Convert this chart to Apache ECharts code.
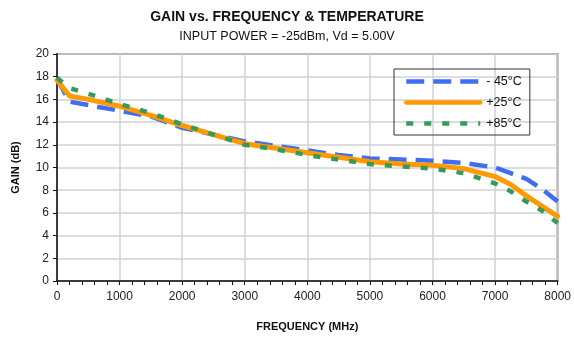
<!DOCTYPE html>
<html>
<head>
<meta charset="utf-8">
<script src="https://cdn.jsdelivr.net/npm/echarts@6/dist/echarts.min.js"></script>
<style>
  html, body { margin: 0; padding: 0; background: #fff; }
  #chart { width: 574px; height: 337px; }
</style>
</head>
<body>
<div id="chart"></div>
<script>
// frequency points (MHz)
var freq = [0, 200, 500, 1000, 1500, 2000, 2500, 3000, 3500, 4000, 4500, 5000, 5500, 6000, 6500, 7000, 7250, 7500, 7750, 8000];
// gain (dB) per temperature
var gainM45 = [17.8, 15.8, 15.5, 15.0, 14.5, 13.5, 12.9, 12.3, 11.9, 11.5, 11.1, 10.8, 10.7, 10.6, 10.4, 10.0, 9.5, 9.0, 8.1, 7.0];
var gainP25 = [17.7, 16.3, 16.0, 15.4, 14.6, 13.7, 12.9, 12.1, 11.7, 11.3, 10.9, 10.5, 10.3, 10.2, 9.9, 9.2, 8.5, 7.5, 6.6, 5.7];
var gainP85 = [17.9, 17.0, 16.5, 15.6, 14.8, 13.8, 12.9, 12.0, 11.6, 11.1, 10.7, 10.3, 10.1, 9.9, 9.5, 8.6, 7.9, 7.0, 6.2, 5.1];
var seriesNames = ['- 45°C', '+25°C', '+85°C'];

function pairs(ys) {
  return freq.map(function (f, i) { return [f, ys[i]]; });
}

var myChart = echarts.init(document.getElementById('chart'));
var font = 'Liberation Sans, Arial, sans-serif';

var option = {
  animation: false,
  title: {
    text: 'GAIN vs. FREQUENCY & TEMPERATURE',
    subtext: 'INPUT POWER = -25dBm, Vd = 5.00V',
    left: 'center',
    top: 5,
    itemGap: 6,
    textStyle: { fontFamily: font, fontSize: 14, fontWeight: 'bold', color: '#111' },
    subtextStyle: { fontFamily: font, fontSize: 12.5, color: '#111' }
  },
  legend: {
    data: seriesNames,
    orient: 'vertical',
    left: 394,
    top: 69,
    padding: [6, 8, 5, 10],
    itemWidth: 74,
    itemHeight: 14,
    itemGap: 8,
    borderColor: '#333',
    borderWidth: 1,
    itemStyle: { opacity: 0 },
    lineStyle: { width: 4.5 },
    textStyle: { fontFamily: font, fontSize: 12.5, color: '#111', padding: [0, 0, 0, 1] }
  },
  grid: {
    left: 57,
    right: 16,
    top: 54,
    bottom: 56,
    show: true,
    borderColor: '#777',
    borderWidth: 2
  },
  xAxis: {
    type: 'value',
    min: 0,
    max: 8000,
    interval: 1000,
    name: 'FREQUENCY (MHz)',
    nameLocation: 'middle',
    nameGap: 40,
    nameTextStyle: { fontFamily: font, fontSize: 11, fontWeight: 'bold', color: '#111' },
    axisLine: { lineStyle: { color: '#111', width: 1.5 } },
    axisTick: { length: 4, lineStyle: { color: '#111' } },
    minorTick: { show: true, splitNumber: 5, length: 4, lineStyle: { color: '#111' } },
    axisLabel: { fontFamily: font, fontSize: 12, color: '#222', margin: 10, formatter: function (v) { return String(v); } },
    splitLine: { lineStyle: { color: '#d2d2d2', width: 1.5 } }
  },
  yAxis: {
    type: 'value',
    min: 0,
    max: 20,
    interval: 2,
    name: 'GAIN (dB)',
    nameLocation: 'middle',
    nameGap: 36,
    nameTextStyle: { fontFamily: font, fontSize: 11, fontWeight: 'bold', color: '#111' },
    axisLine: { show: true, lineStyle: { color: '#111', width: 1.5 } },
    axisTick: { show: true, length: 4, lineStyle: { color: '#111' } },
    axisLabel: { fontFamily: font, fontSize: 12, color: '#222', margin: 8 },
    splitLine: { lineStyle: { color: '#d2d2d2', width: 1.5 } }
  },
  series: [
    {
      name: seriesNames[0],
      type: 'line',
      symbol: 'none',
      data: pairs(gainM45),
      lineStyle: { color: '#3f6ef2', width: 4.5, type: [18, 9] },
      itemStyle: { color: '#3f6ef2' }
    },
    {
      name: seriesNames[1],
      type: 'line',
      symbol: 'none',
      data: pairs(gainP25),
      lineStyle: { color: '#ff9a00', width: 5, cap: 'round' },
      itemStyle: { color: '#ff9a00' }
    },
    {
      name: seriesNames[2],
      type: 'line',
      symbol: 'none',
      data: pairs(gainP85),
      lineStyle: { color: '#36995e', width: 4.5, type: [7, 11] },
      itemStyle: { color: '#36995e' }
    }
  ]
};

myChart.setOption(option);
window.onresize = myChart.resize;
</script>
</body>
</html>
